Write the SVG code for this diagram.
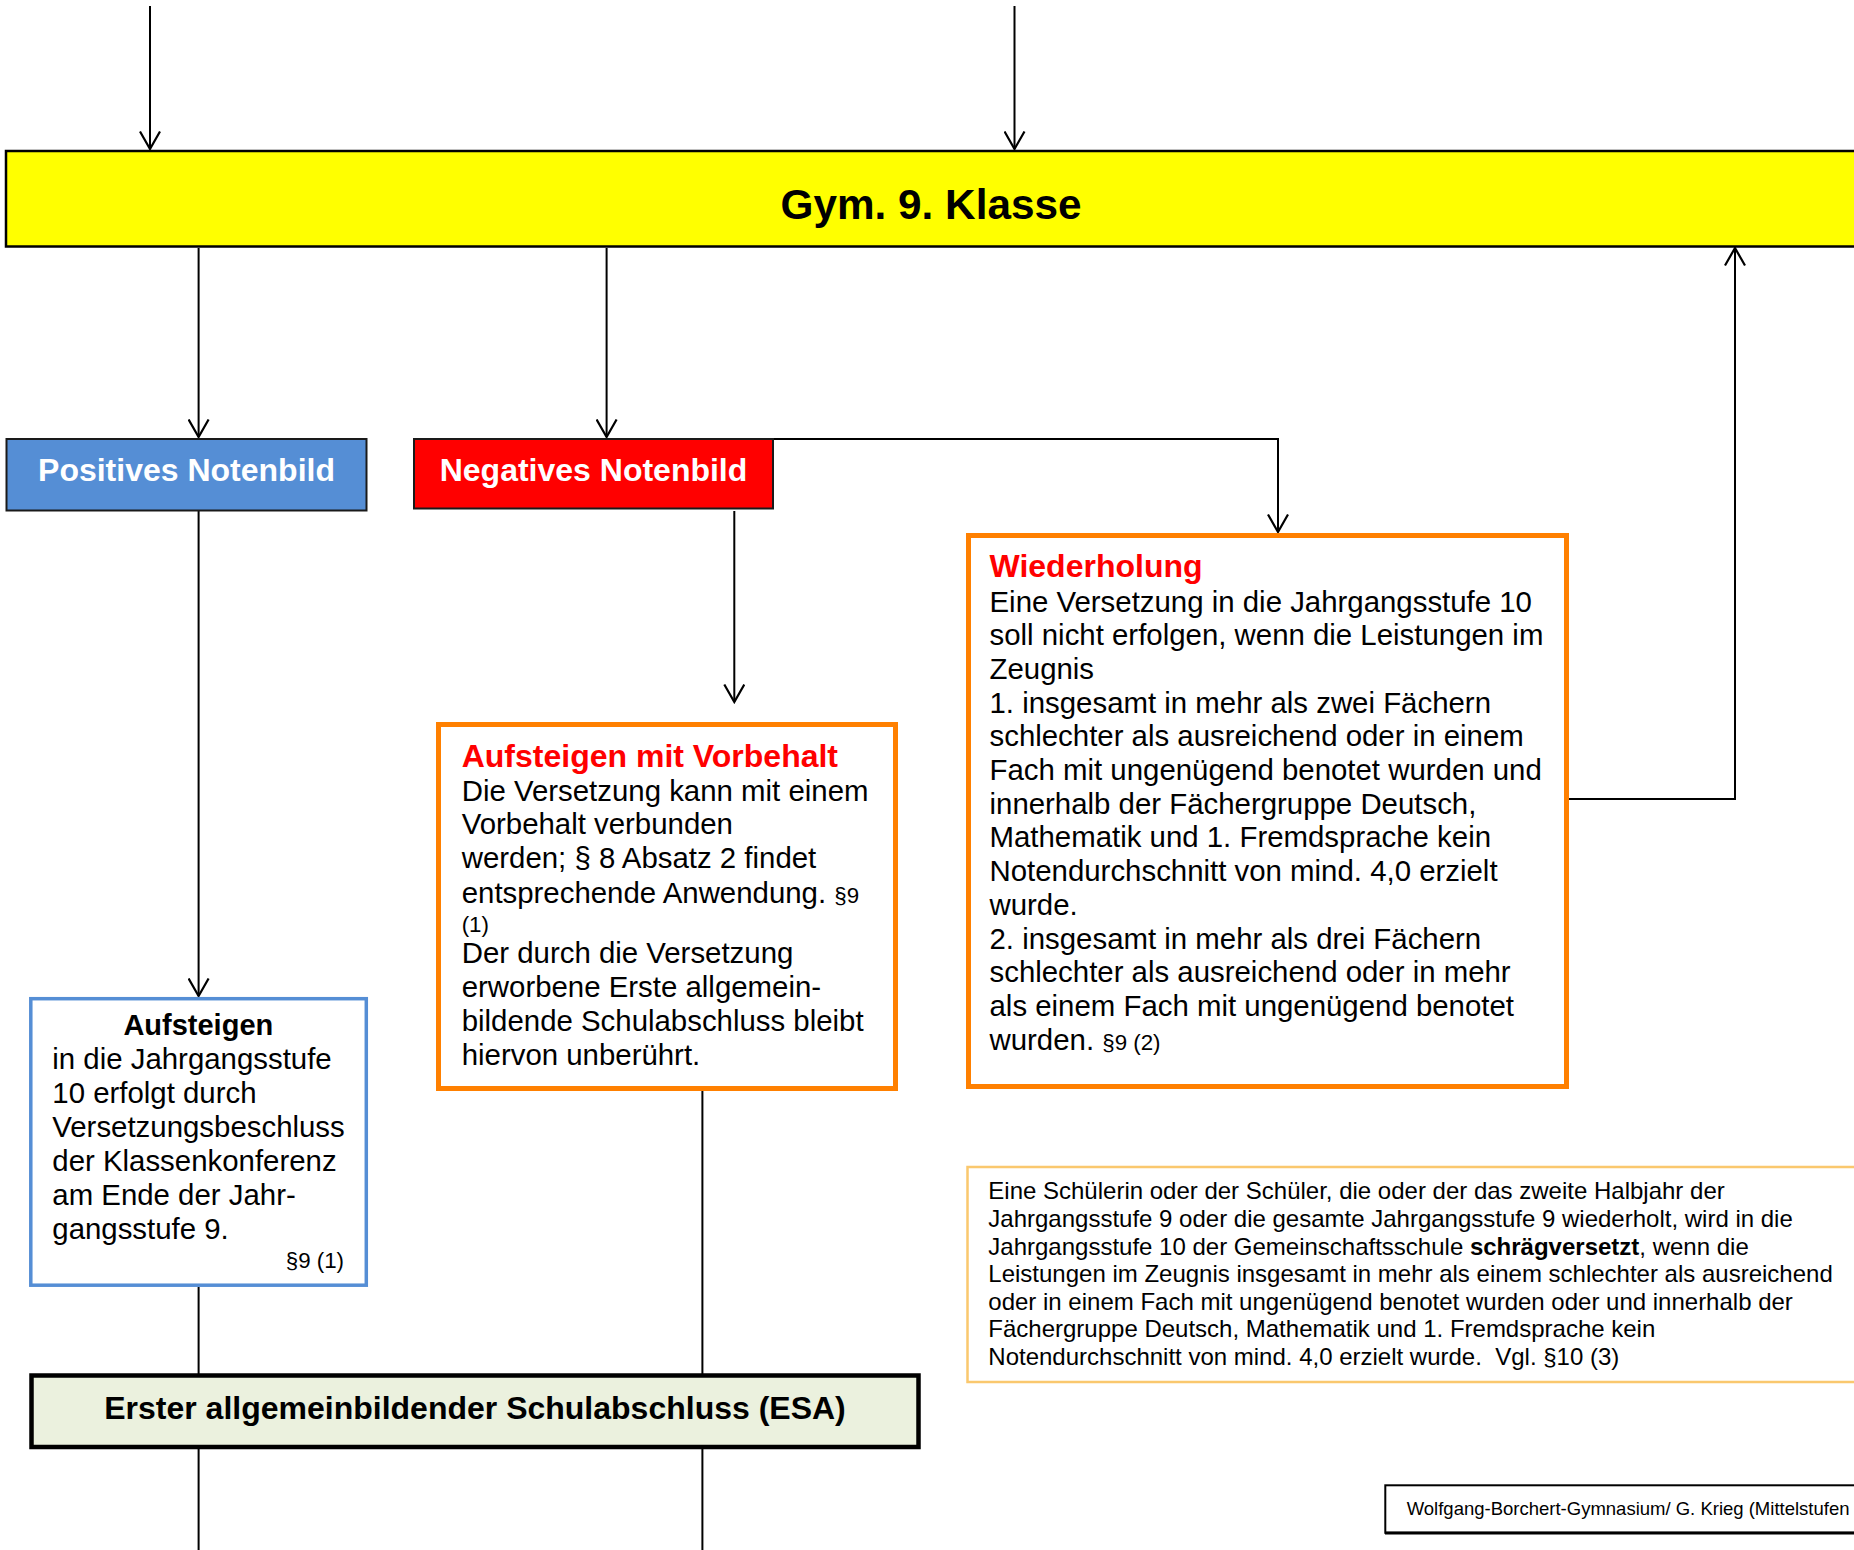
<svg xmlns="http://www.w3.org/2000/svg" width="1854" height="1550" viewBox="0 0 1854 1550">
<style>
text{font-family:"Liberation Sans",Arial,sans-serif;fill:#000}
.b{font-weight:bold}
.w{fill:#fff}
.r{fill:#f00}
.body{font-size:29.4px}
.sm{font-size:22.3px}
.note{font-size:24px}
.conn{fill:none;stroke:#000;stroke-width:2}
</style>
<defs>
<marker id="arr" viewBox="0 0 20 22" refX="18.5" refY="11" markerWidth="20" markerHeight="22" markerUnits="userSpaceOnUse" orient="auto">
<path d="M1,1 L18.5,11 L1,21" fill="none" stroke="#000" stroke-width="2.2"/>
</marker>
</defs>
<rect width="1854" height="1550" fill="#fff"/>

<g id="connectors">
<path class="conn" d="M150,6 V149" marker-end="url(#arr)"/>
<path class="conn" d="M1014.5,6 V149" marker-end="url(#arr)"/>
<path class="conn" d="M198.6,248 V437" marker-end="url(#arr)"/>
<path class="conn" d="M606.6,248 V437" marker-end="url(#arr)"/>
<path class="conn" d="M773,439 H1278 V532" marker-end="url(#arr)"/>
<path class="conn" d="M734.3,511 V702" marker-end="url(#arr)"/>
<path class="conn" d="M198.6,511 V996" marker-end="url(#arr)"/>
<path class="conn" d="M1569,799 H1735 V248" marker-end="url(#arr)"/>
<path class="conn" d="M702.4,1090 V1374"/>
<path class="conn" d="M198.6,1287 V1374"/>
<path class="conn" d="M198.6,1449 V1550"/>
<path class="conn" d="M702.4,1449 V1550"/>
</g>

<g id="gym9">
<rect x="6" y="151" width="1870" height="95.5" fill="#ffff00" stroke="#000" stroke-width="2.5"/>
<text class="b" x="931" y="218.5" font-size="42" text-anchor="middle" textLength="301" lengthAdjust="spacingAndGlyphs">Gym. 9. Klasse</text>
</g>

<g id="positiv">
<rect x="6.5" y="439" width="360" height="71.5" fill="#558ed5" stroke="#1a1a1a" stroke-width="2"/>
<text class="b w" x="186.5" y="481" font-size="32" text-anchor="middle">Positives Notenbild</text>
</g>

<g id="negativ">
<rect x="414" y="439" width="359" height="69.5" fill="#ff0000" stroke="#1a1a1a" stroke-width="2"/>
<text class="b w" x="593.5" y="481" font-size="32" text-anchor="middle">Negatives Notenbild</text>
</g>

<g id="wiederholung">
<rect x="968.5" y="535.5" width="598" height="551" fill="#fff" stroke="#ff8000" stroke-width="5"/>
<text class="b r" x="989.5" y="577" font-size="32">Wiederholung</text>
<text class="body" x="989.5" y="611.5">Eine Versetzung in die Jahrgangsstufe 10</text>
<text class="body" x="989.5" y="645.2">soll nicht erfolgen, wenn die Leistungen im</text>
<text class="body" x="989.5" y="678.9">Zeugnis</text>
<text class="body" x="989.5" y="712.6">1. insgesamt in mehr als zwei Fächern</text>
<text class="body" x="989.5" y="746.3">schlechter als ausreichend oder in einem</text>
<text class="body" x="989.5" y="780">Fach mit ungenügend benotet wurden und</text>
<text class="body" x="989.5" y="813.7">innerhalb der Fächergruppe Deutsch,</text>
<text class="body" x="989.5" y="847.4">Mathematik und 1. Fremdsprache kein</text>
<text class="body" x="989.5" y="881.1">Notendurchschnitt von mind. 4,0 erzielt</text>
<text class="body" x="989.5" y="914.8">wurde.</text>
<text class="body" x="989.5" y="948.5">2. insgesamt in mehr als drei Fächern</text>
<text class="body" x="989.5" y="982.2">schlechter als ausreichend oder in mehr</text>
<text class="body" x="989.5" y="1015.9">als einem Fach mit ungenügend benotet</text>
<text class="body" x="989.5" y="1049.6">wurden. <tspan class="sm">§9 (2)</tspan></text>
</g>

<g id="vorbehalt">
<rect x="438.5" y="724.5" width="457" height="364" fill="#fff" stroke="#ff8000" stroke-width="5"/>
<text class="b r" x="461.7" y="766.7" font-size="32">Aufsteigen mit Vorbehalt</text>
<text class="body" x="461.7" y="800.7">Die Versetzung kann mit einem</text>
<text class="body" x="461.7" y="834">Vorbehalt verbunden</text>
<text class="body" x="461.7" y="868">werden; § 8 Absatz 2 findet</text>
<text class="body" x="461.7" y="902.7">entsprechende Anwendung. <tspan class="sm">§9</tspan></text>
<text class="sm" x="461.7" y="931.7">(1)</text>
<text class="body" x="461.7" y="963.3">Der durch die Versetzung</text>
<text class="body" x="461.7" y="996.7">erworbene Erste allgemein-</text>
<text class="body" x="461.7" y="1030.7">bildende Schulabschluss bleibt</text>
<text class="body" x="461.7" y="1065">hiervon unberührt.</text>
</g>

<g id="aufsteigen">
<rect x="30.8" y="998.7" width="335.5" height="286.5" fill="#fff" stroke="#558ed5" stroke-width="3.5"/>
<text class="b" x="198.3" y="1035" font-size="29" text-anchor="middle">Aufsteigen</text>
<text class="body" x="52.3" y="1069.3">in die Jahrgangsstufe</text>
<text class="body" x="52.3" y="1103">10 erfolgt durch</text>
<text class="body" x="52.3" y="1137.3">Versetzungsbeschluss</text>
<text class="body" x="52.3" y="1171">der Klassenkonferenz</text>
<text class="body" x="52.3" y="1205">am Ende der Jahr-</text>
<text class="body" x="52.3" y="1238.5">gangsstufe 9.</text>
<text class="sm" x="344" y="1268" text-anchor="end">§9 (1)</text>
</g>

<g id="esa">
<rect x="31.5" y="1375.5" width="887" height="71.5" fill="#ebf1de" stroke="#000" stroke-width="4.5"/>
<text class="b" x="475" y="1419" font-size="32" text-anchor="middle">Erster allgemeinbildender Schulabschluss (ESA)</text>
</g>

<g id="schraeg">
<rect x="967.5" y="1167" width="900" height="215" fill="#fff" stroke="#fac86e" stroke-width="2.5"/>
<text class="note" x="988.3" y="1199.3">Eine Schülerin oder der Schüler, die oder der das zweite Halbjahr der</text>
<text class="note" x="988.3" y="1227">Jahrgangsstufe 9 oder die gesamte Jahrgangsstufe 9 wiederholt, wird in die</text>
<text class="note" x="988.3" y="1254.5">Jahrgangsstufe 10 der Gemeinschaftsschule <tspan class="b">schrägversetzt</tspan>, wenn die</text>
<text class="note" x="988.3" y="1282">Leistungen im Zeugnis insgesamt in mehr als einem schlechter als ausreichend</text>
<text class="note" x="988.3" y="1310">oder in einem Fach mit ungenügend benotet wurden oder und innerhalb der</text>
<text class="note" x="988.3" y="1337">Fächergruppe Deutsch, Mathematik und 1. Fremdsprache kein</text>
<text class="note" x="988.3" y="1364.5" xml:space="preserve">Notendurchschnitt von mind. 4,0 erzielt wurde.  Vgl. §10 (3)</text>
</g>

<g id="footer">
<rect x="1385.3" y="1485.3" width="500" height="47.5" fill="#fff" stroke="#000" stroke-width="2"/>
<line x1="1385" y1="1533" x2="1854" y2="1533" stroke="#000" stroke-width="3"/>
<text font-size="18.5" x="1406.7" y="1515">Wolfgang-Borchert-Gymnasium/ G. Krieg (Mittelstufen</text>
</g>
</svg>
